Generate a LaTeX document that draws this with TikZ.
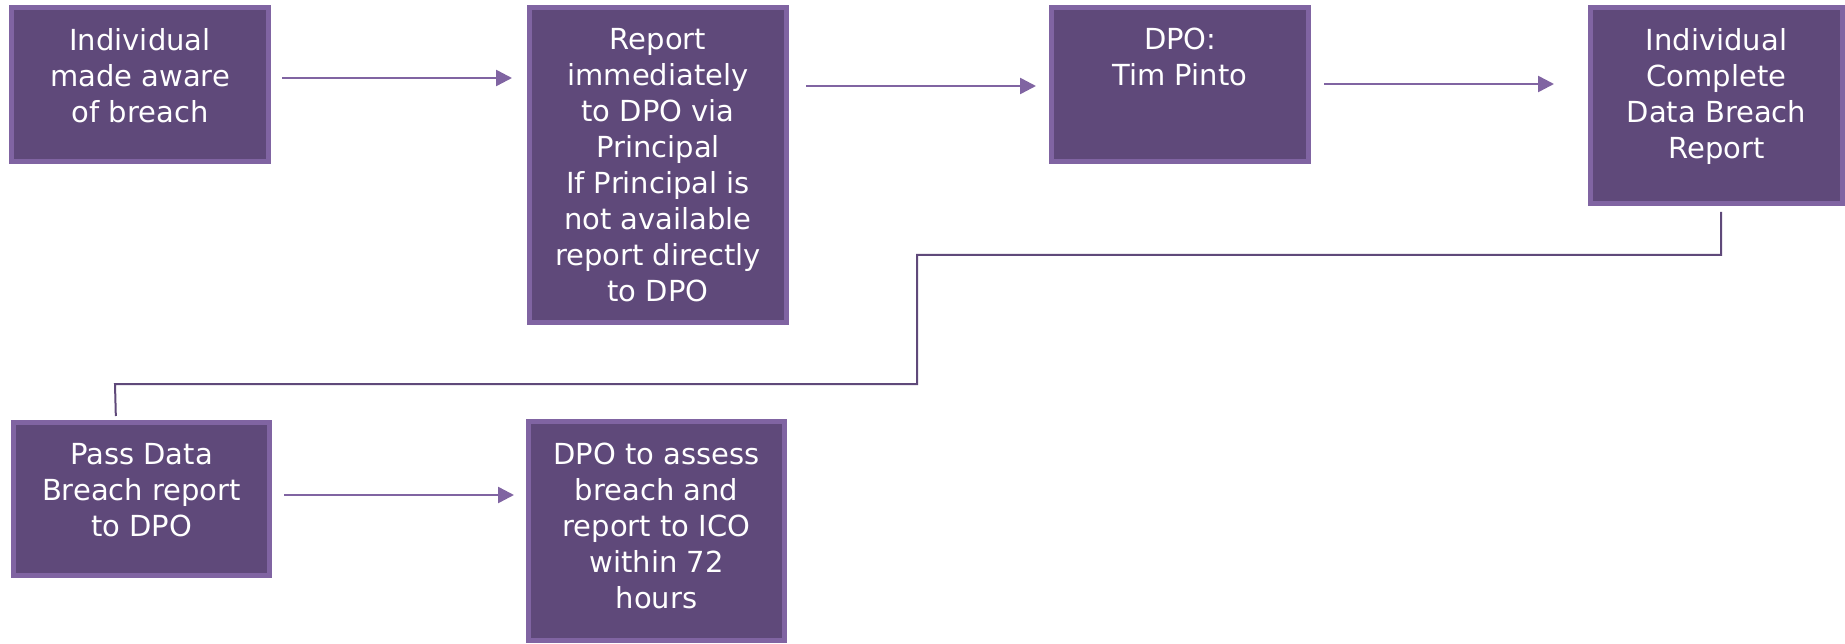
\documentclass[tikz,border=0pt]{standalone}
\usepackage{fontspec}
\setmainfont{DejaVu Sans}
\usetikzlibrary{arrows.meta}
\definecolor{boxfill}{HTML}{5F497A}
\definecolor{boxedge}{HTML}{8064A2}
\begin{document}
\begin{tikzpicture}[x=1pt,y=-1pt,
  stepbox/.style={draw=boxedge, fill=boxfill, line width=5pt, inner sep=0pt, outer sep=0pt, anchor=north west},
  txt/.style={text=white, align=center, inner sep=0pt, outer sep=0pt, anchor=north, font=\fontsize{29}{36}\selectfont},
  arr/.style={draw=boxedge, line width=2.5pt, -{Triangle[length=16pt,width=16pt]}},
  elbow/.style={draw=boxfill, line width=2pt}]
\useasboundingbox (0,0) rectangle (1845,644);
% boxes (outer edge x, y; size minus border)
\node[stepbox, minimum width=257pt, minimum height=154pt] (b1) at (11.5,7.5) {};
\node[stepbox, minimum width=257pt, minimum height=315pt] (b2) at (529.5,7.5) {};
\node[stepbox, minimum width=257pt, minimum height=154pt] (b3) at (1051.5,7.5) {};
\node[stepbox, minimum width=252pt, minimum height=196pt] (b4) at (1590.5,7.5) {};
\node[stepbox, minimum width=256pt, minimum height=153pt] (b5) at (13.5,422.5) {};
\node[stepbox, minimum width=256pt, minimum height=219pt] (b6) at (528.5,421.5) {};
% texts
\node[txt] (t1) at ([yshift=-21pt]b1.north) {Individual\\made aware\\of breach};
\node[txt] (t2) at ([yshift=-21pt]b2.north) {Report\\immediately\\to DPO via\\Principal\\If Principal is\\not available\\report directly\\to DPO};
\node[txt] (t3) at ([yshift=-20pt]b3.north) {DPO:\\Tim Pinto};
\node[txt] (t4) at ([yshift=-21pt]b4.north) {Individual\\Complete\\Data Breach\\Report};
\node[txt] (t5) at ([yshift=-21pt]b5.north) {Pass Data\\Breach report\\to DPO};
\node[txt] (t6) at ([yshift=-21pt]b6.north) {DPO to assess\\breach and\\report to ICO\\within 72\\hours};
% arrows
\draw[arr, shorten <=13.5pt, shorten >=17.5pt] (b1.east |- 0,78) -- (b2.west |- 0,78);
\draw[arr, shorten <=19.5pt, shorten >=15.5pt] (b2.east |- 0,86) -- (b3.west |- 0,86);
\draw[arr, shorten <=15.5pt, shorten >=36.5pt] (b3.east |- 0,84) -- (b4.west |- 0,84);
\draw[arr, shorten <=14.5pt, shorten >=14.5pt] (b5.east |- 0,495) -- (b6.west |- 0,495);
% elbow connector
\draw[elbow, shorten <=8.5pt, shorten >=6.5pt] (b4.south -| 1721,0) -- (1721,255) -- (917,255) -- (917,384) -- (115,384) -- (b5.north -| 116,0);
\end{tikzpicture}
\end{document}
